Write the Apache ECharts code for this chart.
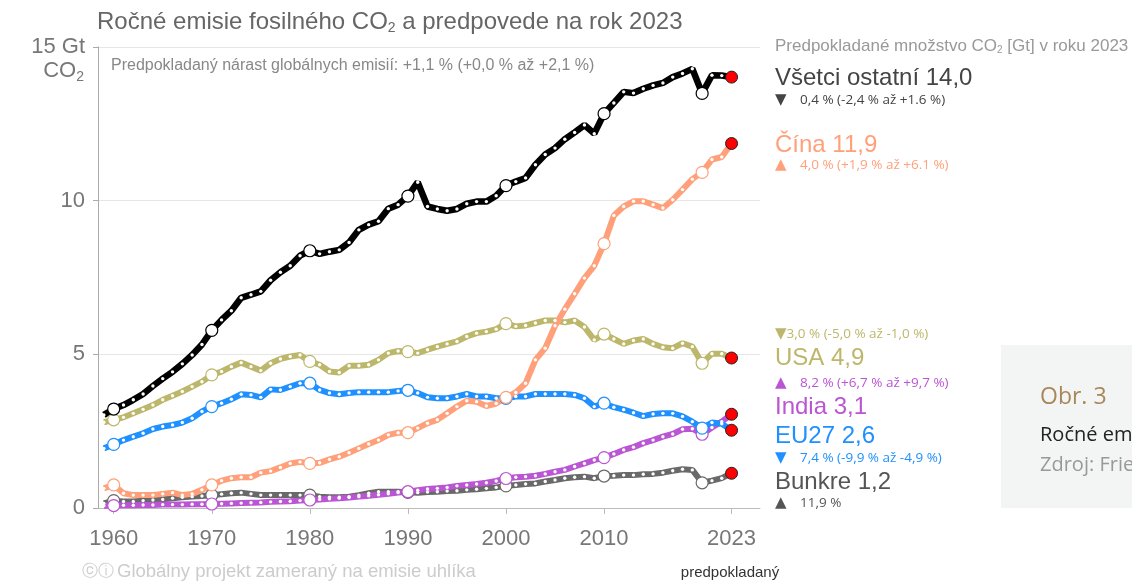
<!DOCTYPE html>
<html>
<head>
<meta charset="utf-8">
<title>Ročné emisie fosilného CO2</title>
<script src="https://cdn.jsdelivr.net/npm/echarts@6/dist/echarts.min.js"></script>
<style>
  html, body { margin: 0; padding: 0; background: #fff; }
  #chart { width: 1132px; height: 581px; }
</style>
</head>
<body>
<div id="chart"></div>
<script>
// roky 1959 - 2023
const firstYear = 1959
const tickYears = [1960, 1970, 1980, 1990, 2000, 2010, 2023]

// emisie v Gt CO2, odčítané z grafu
const others = [3.03, 3.22, 3.35, 3.52, 3.71, 3.97, 4.21, 4.43, 4.69, 4.98, 5.32,
  5.78, 6.12, 6.42, 6.84, 6.94, 7.05, 7.41, 7.67, 7.88, 8.21,
  8.37, 8.27, 8.34, 8.40, 8.64, 9.05, 9.22, 9.33, 9.74, 9.87,
  10.15, 10.6, 9.81, 9.73, 9.67, 9.73, 9.9, 9.97, 9.97, 10.16,
  10.49, 10.62, 10.74, 11.17, 11.5, 11.71, 12.0, 12.22, 12.46, 12.18,
  12.83, 13.18, 13.54, 13.5, 13.64, 13.75, 13.83, 14.02, 14.14, 14.29,
  13.49, 14.08, 14.07, 14.02]
const china = [0.64, 0.75, 0.48, 0.42, 0.42, 0.42, 0.46, 0.5, 0.42, 0.46, 0.59,
  0.75, 0.89, 0.97, 1.0, 1.0, 1.15, 1.2, 1.32, 1.45, 1.5,
  1.45, 1.47, 1.58, 1.67, 1.8, 1.94, 2.08, 2.21, 2.38, 2.45,
  2.45, 2.6, 2.76, 2.87, 3.08, 3.3, 3.49, 3.46, 3.32, 3.4,
  3.6, 3.76, 4.06, 4.82, 5.2, 5.93, 6.47, 6.97, 7.48, 7.88,
  8.6, 9.52, 9.81, 9.98, 9.98, 9.87, 9.76, 10.03, 10.36, 10.7,
  10.92, 11.34, 11.42, 11.86]
const usa = [2.79, 2.87, 2.95, 3.08, 3.21, 3.35, 3.52, 3.65, 3.79, 3.95, 4.11,
  4.33, 4.44, 4.6, 4.73, 4.6, 4.47, 4.71, 4.85, 4.93, 4.98,
  4.77, 4.66, 4.44, 4.41, 4.63, 4.63, 4.66, 4.82, 5.04, 5.11,
  5.09, 5.04, 5.15, 5.25, 5.34, 5.42, 5.58, 5.69, 5.74, 5.82,
  6.0, 5.91, 5.94, 6.02, 6.1, 6.1, 6.04, 6.1, 5.89, 5.47,
  5.66, 5.5, 5.34, 5.45, 5.5, 5.34, 5.23, 5.2, 5.36, 5.25,
  4.71, 5.02, 5.02, 4.88]
const eu27 = [1.94, 2.07, 2.21, 2.32, 2.43, 2.57, 2.65, 2.7, 2.78, 2.92, 3.14,
  3.3, 3.41, 3.54, 3.7, 3.68, 3.6, 3.86, 3.84, 3.95, 4.06,
  4.06, 3.84, 3.74, 3.7, 3.74, 3.77, 3.77, 3.77, 3.77, 3.81,
  3.83, 3.74, 3.6, 3.57, 3.57, 3.63, 3.71, 3.63, 3.63, 3.57,
  3.57, 3.63, 3.63, 3.71, 3.71, 3.71, 3.71, 3.68, 3.57, 3.3,
  3.41, 3.28, 3.2, 3.1, 2.99, 3.06, 3.08, 3.08, 2.98, 2.81,
  2.6, 2.78, 2.74, 2.53]
const india = [0.07, 0.08, 0.09, 0.09, 0.1, 0.1, 0.11, 0.11, 0.11, 0.12, 0.12,
  0.13, 0.14, 0.15, 0.16, 0.17, 0.18, 0.2, 0.21, 0.22, 0.24,
  0.26, 0.28, 0.3, 0.32, 0.34, 0.37, 0.4, 0.43, 0.46, 0.5,
  0.53, 0.58, 0.62, 0.64, 0.67, 0.72, 0.75, 0.78, 0.82, 0.88,
  0.96, 1.0, 1.02, 1.05, 1.11, 1.18, 1.24, 1.35, 1.45, 1.56,
  1.64, 1.76, 1.89, 1.98, 2.11, 2.21, 2.32, 2.41, 2.56, 2.58,
  2.4, 2.62, 2.81, 3.05]
const bunkers = [0.15, 0.24, 0.21, 0.21, 0.24, 0.26, 0.28, 0.32, 0.35, 0.37, 0.39,
  0.42, 0.45, 0.48, 0.5, 0.46, 0.42, 0.42, 0.42, 0.42, 0.42,
  0.42, 0.37, 0.35, 0.35, 0.37, 0.42, 0.48, 0.53, 0.53, 0.53,
  0.51, 0.5, 0.52, 0.53, 0.55, 0.56, 0.59, 0.61, 0.64, 0.67,
  0.72, 0.75, 0.78, 0.8, 0.86, 0.91, 0.97, 1.0, 1.02, 0.97,
  1.04, 1.05, 1.07, 1.07, 1.1, 1.11, 1.15, 1.21, 1.26, 1.24,
  0.82, 0.89, 0.97, 1.13]

const chartDom = document.getElementById('chart')
const chart = echarts.init(chartDom)

const sans = 'Liberation Sans, Arial, sans-serif'
const mont = 'Open Sans, sans-serif'

// bodky: malá biela každý rok, prázdny krúžok každých 10 rokov, červená pre 2023
function makeData(values, color) {
  return values.map(function (v, i) {
    var y = firstYear + i
    if (y === 2023) {
      return { value: [y, v], symbolSize: 12, itemStyle: { color: '#ff0000', borderColor: '#222', borderWidth: 1 } }
    }
    if (y % 10 === 0) {
      return { value: [y, v], symbolSize: 12, itemStyle: { color: '#fff', borderColor: color, borderWidth: 1.2 } }
    }
    return [y, v]
  })
}

function line(name, values, color, width) {
  return {
    name: name,
    type: 'line',
    data: makeData(values, color),
    symbol: 'circle',
    symbolSize: 3.4,
    showAllSymbol: true,
    silent: true,
    lineStyle: { color: color, width: width },
    itemStyle: { color: '#fff', borderWidth: 0 }
  }
}

function txt(x, y, text, size, color, family, extra) {
  var style = {
    x: 0, y: 0,
    text: text,
    fill: color,
    font: size + 'px ' + family,
    align: 'left',
    verticalAlign: 'middle'
  }
  if (extra) Object.assign(style, extra)
  return { type: 'text', x: x, y: y, silent: true, style: style }
}

const subRich = function (size, color, family) {
  return { s: { fontSize: size, fill: color, fontFamily: family, padding: [size * 0.9, 0, 0, 0] } }
}

// malý trojuholník pred percentami
function change(x, y, arrow, text, color) {
  return txt(x, y, '{a|' + arrow + '}' + text, 13.5, color, mont, {
    rich: { a: { fontSize: 15, fill: color, fontFamily: 'DejaVu Sans', width: 25 } }
  })
}

const graphics = [
  // názov
  txt(97, 22, 'Ročné emisie fosilného CO{s|2} a predpovede na rok 2023', 24, '#666', sans,
    { rich: subRich(14, '#666', sans) }),
  txt(84, 71, 'CO{s|2}', 22, '#777', sans, { align: 'right', rich: subRich(14, '#777', sans) }),
  txt(111, 66, 'Predpokladaný nárast globálnych emisií: +1,1 % (+0,0 % až +2,1 %)', 16, '#888', sans),

  // pravá legenda
  txt(775, 46, 'Predpokladané množstvo CO{s|2} [Gt] v roku 2023', 17, '#999', sans,
    { rich: subRich(10, '#999', sans) }),
  txt(775, 78, 'Všetci ostatní 14,0', 24, '#444', sans),
  change(775, 100, '▼', '0,4 % (-2,4 % až +1.6 %)', '#444'),
  txt(775, 145, 'Čína 11,9', 24, '#ffa07a', sans),
  change(775, 165, '▲', '4,0 % (+1,9 % až +6.1 %)', '#ffa07a'),
  txt(775, 334, '{a|▼}3,0 % (-5,0 % až -1,0 %)', 13.5, '#bdb76b', mont,
    { rich: { a: { fontSize: 15, fill: '#bdb76b', fontFamily: 'DejaVu Sans' } } }),
  txt(775, 358, 'USA 4,9', 24, '#bdb76b', sans),
  change(775, 383, '▲', '8,2 % (+6,7 % až +9,7 %)', '#ba55d3'),
  txt(775, 407, 'India 3,1', 24, '#ba55d3', sans),
  txt(775, 436, 'EU27 2,6', 24, '#1e90ff', sans),
  change(775, 458, '▼', '7,4 % (-9,9 % až -4,9 %)', '#1e90ff'),
  txt(775, 482, 'Bunkre 1,2', 24, '#555', sans),
  change(775, 503, '▲', '11,9 %', '#555'),

  // šedý box vpravo
  { type: 'rect', silent: true, shape: { x: 1001, y: 345, width: 140, height: 163 }, style: { fill: '#f3f4f4' } },
  txt(1040, 397, 'Obr. 3', 23, '#a8885a', mont),
  txt(1040, 435, 'Ročné emisie fosilného CO2', 20, '#222', mont),
  txt(1040, 465, 'Zdroj: Friedlingstein a kol.', 20, '#999', mont),

  // päta
  txt(82, 572, 'ⓒⓘ', 16, '#ccc', 'DejaVu Sans'),
  txt(117, 572, 'Globálny projekt zameraný na emisie uhlíka', 18.5, '#ccc', sans),
  txt(730, 573, 'predpokladaný', 15, '#333', sans, { align: 'center' })
]

const option = {
  animation: false,
  grid: { left: 98, right: 372, top: 47, bottom: 73 },
  xAxis: {
    type: 'value',
    min: 1958.4,
    max: 2025.9,
    axisLine: { lineStyle: { color: '#bbb', width: 1 } },
    axisTick: { customValues: tickYears, length: 6, lineStyle: { color: '#bbb' } },
    axisLabel: {
      customValues: tickYears, fontSize: 22, color: '#777', margin: 20, fontFamily: sans,
      formatter: function (v) { return String(v) }
    },
    splitLine: { show: false }
  },
  yAxis: {
    type: 'value',
    min: 0,
    max: 15,
    interval: 5,
    axisLine: { show: true, lineStyle: { color: '#aaa' } },
    axisTick: { show: true, length: 5, lineStyle: { color: '#aaa' } },
    axisLabel: {
      fontSize: 22, color: '#777', margin: 13, fontFamily: sans,
      formatter: function (v) { return v === 15 ? '15 Gt' : String(v) }
    },
    splitLine: { lineStyle: { color: '#e6e6e6' } }
  },
  graphic: graphics,
  series: [
    line('Bunkre', bunkers, '#696969', 6),
    line('India', india, '#ba55d3', 6),
    line('EU27', eu27, '#1e90ff', 6),
    line('USA', usa, '#bdb76b', 6),
    line('Čína', china, '#ffa07a', 6),
    line('Všetci ostatní', others, '#000', 6.5)
  ]
}

chart.setOption(option)
</script>
</body>
</html>
